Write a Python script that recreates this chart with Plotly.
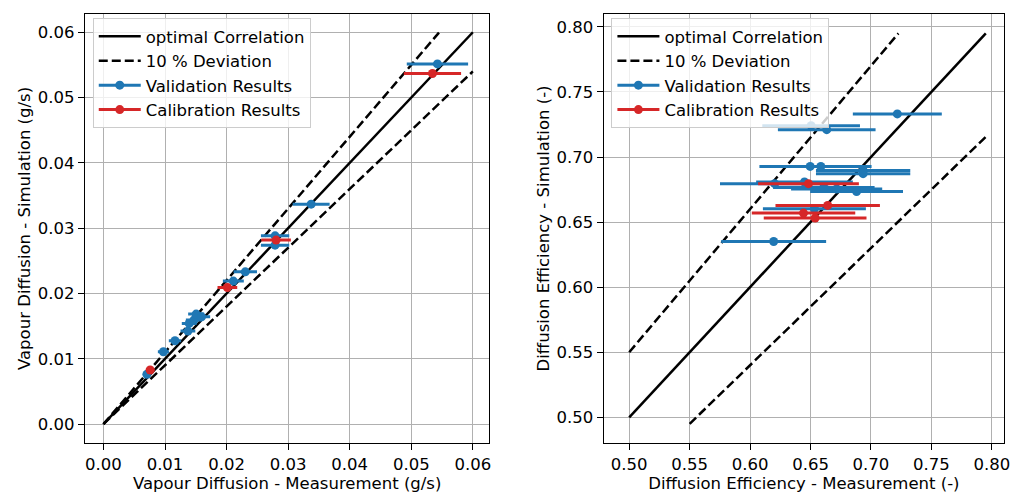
import plotly.graph_objects as go

# ---------------- data: left panel (vapour diffusion, g/s) ----------------
vap_val_meas = [0.00705, 0.00974, 0.01162, 0.01372, 0.01393, 0.01469, 0.01506, 0.01593,
                0.0211, 0.02304, 0.02788, 0.02788, 0.03374, 0.05425]
vap_val_sim = [0.00761, 0.01107, 0.01275, 0.01424, 0.01541, 0.01592, 0.01684, 0.01642,
               0.02189, 0.02331, 0.02882, 0.0274, 0.03368, 0.05515]
vap_val_err = [0.0006, 0.0009, 0.001, 0.0012, 0.0012, 0.0013, 0.0013, 0.0014,
               0.0017, 0.0019, 0.0023, 0.0023, 0.003, 0.00498]
vap_cal_meas = [0.00759, 0.02013, 0.02804, 0.05344]
vap_cal_sim = [0.00827, 0.02092, 0.02817, 0.05368]
vap_cal_err = [0.0007, 0.0016, 0.0024, 0.00465]

vap_opt_x = [0.0, 0.06]
vap_up_x = [0.0, 0.0545]
vap_lo_x = [0.0, 0.06]

# ---------------- data: right panel (diffusion efficiency, -) ----------------
eff_val_meas = [0.7218, 0.6505, 0.6634, 0.6497, 0.6585, 0.6935, 0.6935, 0.6203, 0.645,
                0.661, 0.6716, 0.6881, 0.6532, 0.6195]
eff_val_sim = [0.7331, 0.7241, 0.7210, 0.6928, 0.6928, 0.6897, 0.6872, 0.6795, 0.6808,
               0.6766, 0.6754, 0.6735, 0.6602, 0.6351]
eff_val_err = [0.0368, 0.0404, 0.0404, 0.042, 0.042, 0.039, 0.039, 0.0452, 0.040,
               0.042, 0.0377, 0.0384, 0.0426, 0.0434]
eff_cal_meas = [0.6483, 0.6642, 0.6442, 0.6538]
eff_cal_sim = [0.6795, 0.6628, 0.6569, 0.6531]
eff_cal_err = [0.0417, 0.0432, 0.0428, 0.0425]

eff_opt_x = [0.5, 0.795]
eff_up_x = [0.5, 0.7227]
eff_lo_x = [0.55, 0.795]

DEV = 0.10
BLUE = "#1f77b4"
RED = "#d62728"
FONT = "DejaVu Sans"
FS = 16.5

fig = go.Figure()


def add_panel(xa, ya, legend, opt_x, up_x, lo_x, vm, vs, ve, cm, cs, ce):
    fig.add_trace(go.Scatter(x=opt_x, y=opt_x, mode="lines", name="optimal Correlation",
                             line=dict(color="black", width=2.5), xaxis=xa, yaxis=ya,
                             legend=legend))
    dx = up_x + [None] + lo_x
    dy = [v * (1 + DEV) for v in up_x] + [None] + [v * (1 - DEV) for v in lo_x]
    fig.add_trace(go.Scatter(x=dx, y=dy, mode="lines", name="10 % Deviation",
                             line=dict(color="black", width=2.5, dash="9px,4px"),
                             xaxis=xa, yaxis=ya, legend=legend, connectgaps=False))
    for meas, sim, err, col, name in [(vm, vs, ve, BLUE, "Validation Results"),
                                      (cm, cs, ce, RED, "Calibration Results")]:
        fig.add_trace(go.Scatter(x=meas, y=sim, mode="markers", showlegend=False,
                                 marker=dict(color=col, size=9),
                                 error_x=dict(type="data", array=err, visible=True,
                                              color=col, thickness=3, width=0),
                                 xaxis=xa, yaxis=ya, name=name))
        fig.add_trace(go.Scatter(x=[None], y=[None], mode="lines+markers", name=name,
                                 line=dict(color=col, width=3),
                                 marker=dict(color=col, size=9),
                                 xaxis=xa, yaxis=ya, legend=legend))


add_panel("x", "y", "legend", vap_opt_x, vap_up_x, vap_lo_x,
          vap_val_meas, vap_val_sim, vap_val_err, vap_cal_meas, vap_cal_sim, vap_cal_err)
add_panel("x2", "y2", "legend2", eff_opt_x, eff_up_x, eff_lo_x,
          eff_val_meas, eff_val_sim, eff_val_err, eff_cal_meas, eff_cal_sim, eff_cal_err)

axis_common = dict(showline=True, linecolor="black", linewidth=1.3, mirror=True,
                   ticks="outside", ticklen=6, tickwidth=1.3, tickcolor="black",
                   showgrid=True, gridcolor="#b0b0b0", gridwidth=1.3, zeroline=False,
                   tickfont=dict(family=FONT, size=FS, color="black"), tickformat=".2f")

legend_common = dict(bgcolor="rgba(255,255,255,0.8)", bordercolor="#cccccc", borderwidth=1,
                     font=dict(family=FONT, size=FS, color="black"),
                     xanchor="left", yanchor="top", tracegroupgap=0, itemwidth=42)

fig.update_layout(
    width=1027, height=494,
    margin=dict(l=0, r=0, t=0, b=0),
    paper_bgcolor="white", plot_bgcolor="white",
    font=dict(family=FONT, size=FS, color="black"),
    xaxis=dict(axis_common, domain=[0.0831, 0.4794], range=[-0.00302, 0.0627], dtick=0.01,
               title=dict(text="Vapour Diffusion - Measurement (g/s)", standoff=4,
                          font=dict(family=FONT, size=FS)), anchor="y"),
    yaxis=dict(axis_common, domain=[0.1026, 0.9725], range=[-0.00295, 0.06286], dtick=0.01,
               title=dict(text="Vapour Diffusion - Simulation (g/s)", standoff=2,
                          font=dict(family=FONT, size=FS)), anchor="x"),
    xaxis2=dict(axis_common, domain=[0.5913, 0.9834], range=[0.4789, 0.8101], dtick=0.05,
                title=dict(text="Diffusion Efficiency - Measurement (-)", standoff=4,
                           font=dict(family=FONT, size=FS)), anchor="y2"),
    yaxis2=dict(axis_common, domain=[0.1026, 0.9725], range=[0.480, 0.8102], dtick=0.05,
                title=dict(text="Diffusion Efficiency - Simulation (-)", standoff=2,
                           font=dict(family=FONT, size=FS)), anchor="x2"),
    legend=dict(legend_common, x=93.3 / 1027, y=(494 - 18) / 494),
    legend2=dict(legend_common, x=615 / 1027, y=(494 - 18) / 494),
)

fig.write_html("out.html")
